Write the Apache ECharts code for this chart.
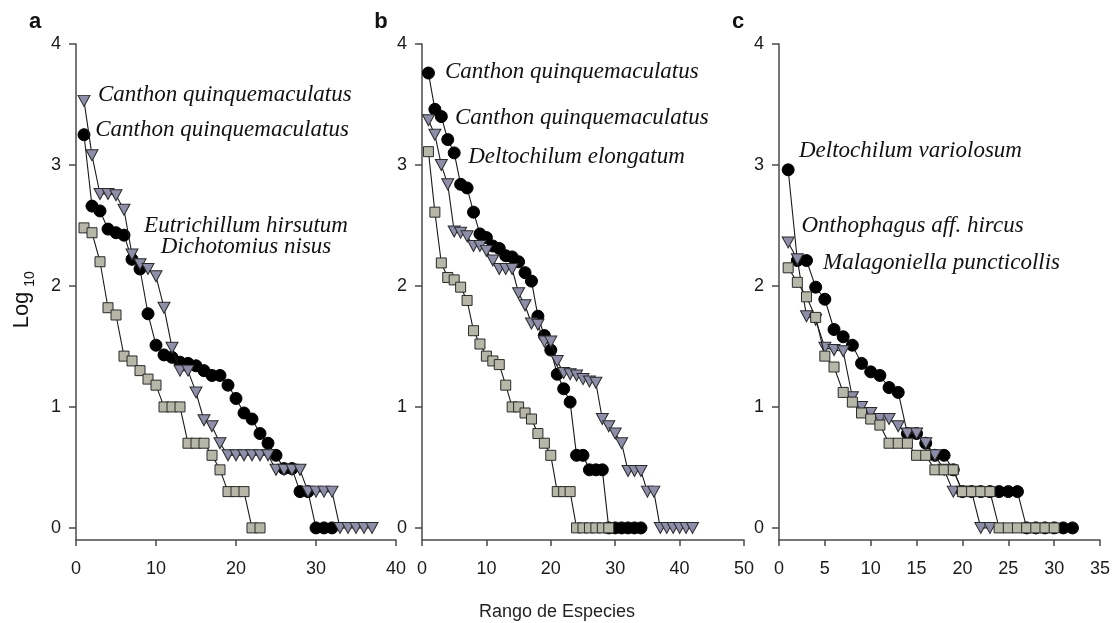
<!DOCTYPE html>
<html><head><meta charset="utf-8">
<script src="https://cdn.jsdelivr.net/npm/echarts@6/dist/echarts.min.js"></script>
<style>html,body{margin:0;padding:0;background:#fff}#c{width:1115px;height:623px}</style>
</head><body><div id="c"></div>
<script>
// ---- data (log10 abundance by species rank, rank = index + 1) ----
const panelLetters = ['a', 'b', 'c'];
const xMax = [40, 50, 35];
const xInterval = [10, 10, 5];
const yTicks = [0, 1, 2, 3, 4];

const circlesA = [3.25,2.66,2.62,2.47,2.44,2.42,2.22,2.14,1.77,1.51,1.43,1.41,1.37,1.36,1.34,1.30,1.26,1.26,1.18,1.07,0.95,0.90,0.78,0.70,0.60,0.49,0.49,0.30,0.30,0,0,0];
const trianglesA = [3.53,3.08,2.76,2.76,2.75,2.63,2.26,2.18,2.14,2.08,1.82,1.49,1.30,1.30,1.12,0.89,0.84,0.70,0.60,0.60,0.60,0.60,0.60,0.60,0.48,0.48,0.48,0.48,0.30,0.30,0.30,0.30,0,0,0,0,0];
const squaresA = [2.48,2.44,2.20,1.82,1.76,1.42,1.38,1.30,1.23,1.18,1.0,1.0,1.0,0.70,0.70,0.70,0.60,0.48,0.30,0.30,0.30,0,0];

const circlesB = [3.76,3.46,3.40,3.21,3.10,2.84,2.81,2.61,2.43,2.40,2.33,2.31,2.25,2.24,2.20,2.11,2.04,1.75,1.59,1.47,1.27,1.15,1.04,0.60,0.60,0.48,0.48,0.48,0,0,0,0,0,0];
const trianglesB = [3.37,3.25,3.00,2.84,2.45,2.44,2.41,2.33,2.33,2.29,2.21,2.14,2.14,2.14,1.94,1.84,1.69,1.68,1.54,1.54,1.38,1.28,1.27,1.26,1.23,1.21,1.20,0.90,0.84,0.78,0.70,0.47,0.47,0.47,0.30,0.30,0,0,0,0,0,0];
const squaresB = [3.11,2.61,2.19,2.07,2.05,1.99,1.88,1.63,1.52,1.42,1.38,1.35,1.18,1.0,1.0,0.95,0.90,0.78,0.70,0.60,0.30,0.30,0.30,0,0,0,0,0,0];

const circlesC = [2.96,2.21,2.21,1.99,1.89,1.64,1.58,1.51,1.36,1.29,1.26,1.16,1.12,0.78,0.78,0.70,0.60,0.60,0.48,0.30,0.30,0.30,0.30,0.30,0.30,0.30,0,0,0,0,0,0];
const trianglesC = [2.36,2.22,1.75,1.72,1.49,1.47,1.46,1.08,1.00,0.95,0.90,0.90,0.84,0.78,0.78,0.70,0.60,0.48,0.30,0.30,0.30,0,0];
const squaresC = [2.15,2.03,1.91,1.74,1.42,1.33,1.12,1.04,0.95,0.90,0.85,0.70,0.70,0.70,0.60,0.60,0.48,0.48,0.48,0.30,0.30,0.30,0.30,0,0,0,0,0,0,0];

const annotations = [
  {panel:0, x:2.75, y:3.58, text:'Canthon quinquemaculatus', align:'left'},
  {panel:0, x:2.4, y:3.29, text:'Canthon quinquemaculatus', align:'left'},
  {panel:0, x:21.25, y:2.50, text:'Eutrichillum hirsutum', align:'center'},
  {panel:0, x:21.25, y:2.32, text:'Dichotomius nisus', align:'center'},
  {panel:1, x:3.57, y:3.77, text:'Canthon quinquemaculatus', align:'left'},
  {panel:1, x:5.12, y:3.39, text:'Canthon quinquemaculatus', align:'left'},
  {panel:1, x:7.18, y:3.07, text:'Deltochilum elongatum', align:'left'},
  {panel:2, x:2.18, y:3.12, text:'Deltochilum variolosum', align:'left'},
  {panel:2, x:2.45, y:2.50, text:'Onthophagus aff. hircus', align:'left'},
  {panel:2, x:4.8, y:2.19, text:'Malagoniella puncticollis', align:'left'}
];
const xTitle = 'Rango de Especies';

// ---- chart ----
const panels = [
  {c: circlesA, t: trianglesA, s: squaresA},
  {c: circlesB, t: trianglesB, s: squaresB},
  {c: circlesC, t: trianglesC, s: squaresC}
];
const gridBoxes = [
  {left: 76, top: 44, width: 320, height: 496},
  {left: 422, top: 44, width: 322, height: 496},
  {left: 779, top: 44, width: 321, height: 496}
];
const axisColor = '#4a4a4a';
const labelFont = {fontFamily: 'Liberation Sans, Arial, sans-serif', fontSize: 18, color: '#1a1a1a'};
const toPts = arr => arr.map((v, i) => [i + 1, v]);

const chart = echarts.init(document.getElementById('c'), null, {renderer: 'canvas'});
const series = [];
panels.forEach((p, i) => {
  const common = {
    type: 'line', xAxisIndex: i, yAxisIndex: i,
    lineStyle: {color: '#1a1a1a', width: 1.1},
    animation: false, silent: true
  };
  series.push(Object.assign({}, common, {
    name: 'circ' + i, data: toPts(p.c), symbol: 'circle', symbolSize: 12,
    itemStyle: {color: '#000', borderColor: '#000', borderWidth: 1}, z: 2
  }));
  series.push(Object.assign({}, common, {
    name: 'tri' + i, data: toPts(p.t), symbol: 'triangle', symbolRotate: 180, symbolSize: [12, 11],
    itemStyle: {color: '#8e8eaa', borderColor: '#2a2a2a', borderWidth: 1}, z: 3
  }));
  series.push(Object.assign({}, common, {
    name: 'sq' + i, data: toPts(p.s), symbol: 'rect', symbolSize: 10,
    itemStyle: {color: '#b6b7a7', borderColor: '#2a2a2a', borderWidth: 1}, z: 4
  }));
});

const option = {
  backgroundColor: '#fff',
  animation: false,
  grid: gridBoxes.map(g => Object.assign({containLabel: false}, g)),
  xAxis: panels.map((p, i) => ({
    gridIndex: i, type: 'value', min: 0, max: xMax[i], interval: xInterval[i],
    axisLine: {show: true, onZero: false, lineStyle: {color: axisColor, width: 1.5}},
    axisTick: {show: true, length: 6, lineStyle: {color: axisColor, width: 1.5}},
    axisLabel: Object.assign({margin: 20, showMinLabel: true, showMaxLabel: true}, labelFont),
    splitLine: {show: false}
  })),
  yAxis: panels.map((p, i) => ({
    gridIndex: i, type: 'value', min: -0.1, max: 4,
    axisLine: {show: true, onZero: false, lineStyle: {color: axisColor, width: 1.5}},
    axisTick: {show: true, length: 7, customValues: yTicks, lineStyle: {color: axisColor, width: 1.5}},
    axisLabel: Object.assign({margin: 15, customValues: yTicks}, labelFont),
    splitLine: {show: false}
  })),
  series: series
};
chart.setOption(option);

// annotations and titles
const graphics = [];
annotations.forEach(a => {
  const pt = chart.convertToPixel({gridIndex: a.panel}, [a.x, a.y]);
  graphics.push({
    type: 'text', x: pt[0], y: pt[1], silent: true,
    style: {text: a.text, fill: '#111', font: 'italic 23px "Liberation Serif", "Times New Roman", serif',
            textAlign: a.align, textVerticalAlign: 'middle'}
  });
});
panelLetters.forEach((l, i) => {
  const pt = chart.convertToPixel({gridIndex: i}, [0, 4]);
  graphics.push({
    type: 'text', x: pt[0] - 41, y: pt[1] - 22, silent: true,
    style: {text: l, fill: '#111', font: 'bold 22px "Liberation Sans", Arial, sans-serif',
            textAlign: 'center', textVerticalAlign: 'middle'}
  });
});
graphics.push({
  type: 'text', x: 22, y: 310, rotation: Math.PI / 2, silent: true,
  style: {text: 'Log', fill: '#111', font: '22px "Liberation Sans", Arial, sans-serif',
          textAlign: 'center', textVerticalAlign: 'middle'}
});
graphics.push({
  type: 'text', x: 30, y: 279, rotation: Math.PI / 2, silent: true,
  style: {text: '10', fill: '#111', font: '14px "Liberation Sans", Arial, sans-serif',
          textAlign: 'center', textVerticalAlign: 'middle'}
});
graphics.push({
  type: 'text', x: 557, y: 612, silent: true,
  style: {text: xTitle, fill: '#222', font: '18px "Liberation Sans", Arial, sans-serif',
          textAlign: 'center', textVerticalAlign: 'middle'}
});
chart.setOption({graphic: graphics});
</script>
</body></html>
